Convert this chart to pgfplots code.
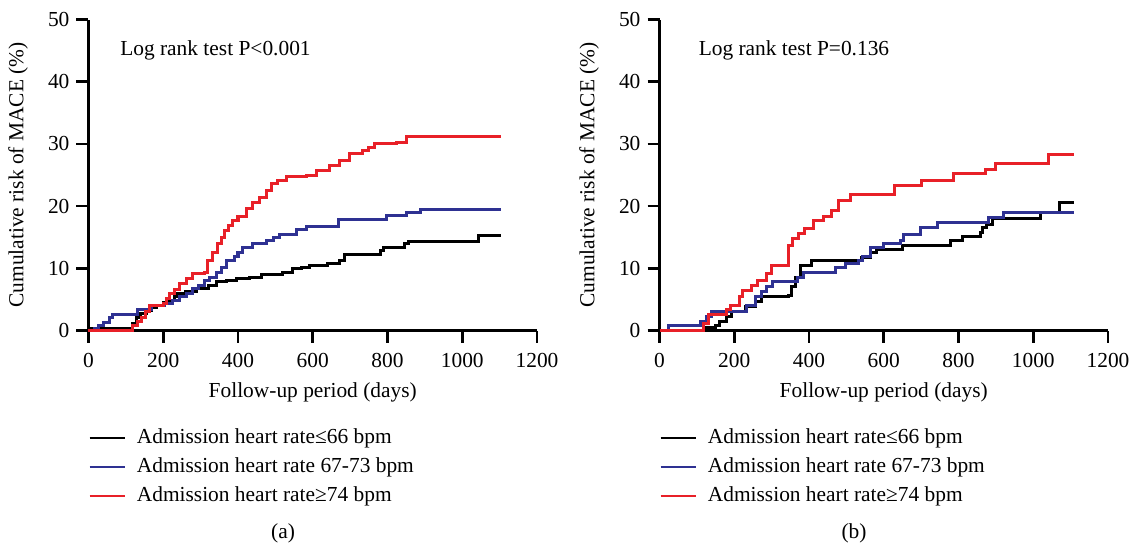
\documentclass[border=0pt]{standalone}
\usepackage{pgfplots}
\pgfplotsset{compat=1.18}
\usepackage{fontspec}
\setmainfont{Liberation Serif}
\definecolor{kmred}{RGB}{232,32,40}
\definecolor{kmblue}{RGB}{46,49,146}
\newcommand{\fsz}{\fontsize{10.7}{12.8}\selectfont}

\pgfplotsset{
  kmaxis/.style={
    scale only axis, width=224.25pt, height=155.5pt,
    xmin=0, xmax=1200, ymin=0, ymax=50,
    xtick={0,200,...,1200}, ytick={0,10,...,50},
    axis x line=bottom, axis y line=left,
    axis line style={line width=1.3pt,-},
    tick style={line width=1.3pt,black},
    tick align=outside, major tick length=6pt,
    tick label style={font=\fsz},
    xticklabel style={yshift=-2pt},
    /pgf/number format/assume math mode=true,
    /pgf/number format/1000 sep={},
    xlabel={Follow-up period (days)},
    ylabel={Cumulative risk of MACE (\%)},
    xlabel style={font=\fsz, at={(axis description cs:0.5,0)}, anchor=center, yshift=-30.75pt},
    ylabel style={font=\fsz, at={(axis description cs:0,0.5)}, anchor=center, yshift=35.25pt},
    clip=false,
    legend style={draw=none, fill=none, inner sep=0pt, outer sep=0pt,
      at={(0,0)}, anchor=north west, yshift=-48.75pt, font=\fsz,
      nodes={inner sep=0pt, text height=7.5pt, text depth=2.5pt},
      row sep=4.5pt,
      /tikz/every odd column/.append style={column sep=5.5pt}},
    legend cell align=left,
    legend image code/.code={\draw[#1, line width=1.2pt] (0pt,0pt) -- (17.5pt,0pt);},
    every axis plot/.append style={const plot, line width=1.5pt, no marks},
  }
}

\begin{document}
\begin{tikzpicture}
\path[use as bounding box] (-44.25pt,-107.75pt) rectangle (523.25pt,165.25pt);

% (a)
\begin{axis}[kmaxis]
\addplot[black] coordinates {
(0,0.3) (112,0.3) (118,1.2) (128,2.1) (140,2.7) (155,3.2) (168,3.7) (181,4.1)
(200,4.5) (217,4.8) (230,5.4) (239,5.9) (260,6.3) (288,6.7) (320,7.2) (342,7.8)
(370,8.1) (396,8.3) (430,8.6) (463,9.0) (520,9.3) (545,9.9) (570,10.2) (592,10.4)
(640,10.8) (672,11.3) (686,12.2) (780,12.9) (788,13.4) (846,14.0) (855,14.3)
(1043,15.3) (1105,15.3)};
\addplot[kmblue] coordinates {
(0,0) (15,0.4) (27,0.8) (40,1.3) (56,2.1) (65,2.5) (132,3.3) (168,4.0) (204,4.4)
(225,4.9) (244,5.4) (262,6.0) (279,6.7) (295,7.3) (311,8.0) (325,8.6) (342,9.4)
(355,10.2) (369,11.3) (391,11.9) (400,12.5) (413,13.4) (440,14.0) (476,14.5)
(495,15.0) (512,15.5) (556,16.3) (583,16.7) (668,17.9) (797,18.5) (851,18.9)
(887,19.4) (1105,19.4)};
\addplot[kmred] coordinates {
(0,0) (110,0) (118,0.8) (130,1.5) (141,2.1) (152,3.0) (163,4.0) (200,4.3)
(210,5.2) (217,5.9) (230,6.6) (244,7.5) (262,8.3) (279,9.1) (311,9.4) (319,11.3)
(333,12.6) (346,14.0) (355,15.0) (364,16.0) (375,16.9) (386,17.7) (400,18.3)
(422,19.6) (440,20.5) (458,21.4) (475,22.5) (489,23.6) (505,24.1) (529,24.7)
(583,24.9) (610,25.7) (646,26.5) (672,27.3) (699,28.4) (734,28.9) (750,29.5)
(766,30.0) (824,30.3) (851,31.2) (1105,31.2)};
\legend{Admission heart rate≤66 bpm, Admission heart rate 67-73 bpm, Admission heart rate≥74 bpm}
\node[anchor=west, inner sep=0pt, font=\fsz] at (axis cs:84,45.1) {Log rank test P<0.001};
\node[font=\fsz] at (rel axis cs:0.4337,-0.651) {(a)};
\end{axis}

% (b)
\begin{axis}[kmaxis, at={(285.5pt,0pt)}]
\addplot[black] coordinates {
(0,0) (100,0) (120,0.5) (149,0.8) (160,1.5) (180,2.2) (193,3.1) (229,3.8)
(256,4.6) (274,5.4) (346,5.6) (354,7.0) (363,8.6) (377,10.5) (408,11.3)
(541,11.8) (564,12.6) (580,13.1) (649,13.7) (779,14.5) (810,15.1) (859,15.8)
(865,16.6) (876,17.1) (890,18.0) (1020,19.0) (1069,20.5) (1109,20.5)};
\addplot[kmblue] coordinates {
(0,0) (24,0.75) (109,1.4) (125,2.3) (140,3.1) (233,4.1) (256,5.4) (272,6.2)
(287,7.0) (301,7.9) (370,8.6) (386,9.4) (470,10.2) (497,10.8) (533,11.3)
(542,11.9) (564,13.4) (600,14.0) (645,14.5) (654,15.5) (699,16.5) (743,17.4)
(881,18.1) (921,19.0) (1109,19.0)};
\addplot[kmred] coordinates {
(0,0) (100,0) (119,1.2) (132,2.5) (180,3.3) (191,4.1) (214,5.4) (222,6.5)
(245,7.3) (263,8.1) (286,9.2) (299,10.5) (344,13.7) (357,14.8) (371,15.6)
(389,16.4) (411,17.7) (438,18.3) (461,19.3) (479,20.9) (511,21.9) (628,23.3)
(700,24.1) (786,25.2) (871,25.9) (898,26.9) (1042,28.3) (1109,28.3)};
\legend{Admission heart rate≤66 bpm, Admission heart rate 67-73 bpm, Admission heart rate≥74 bpm}
\node[anchor=west, inner sep=0pt, font=\fsz] at (axis cs:104,45.1) {Log rank test P=0.136};
\node[font=\fsz] at (rel axis cs:0.4337,-0.651) {(b)};
\end{axis}
\end{tikzpicture}
\end{document}
